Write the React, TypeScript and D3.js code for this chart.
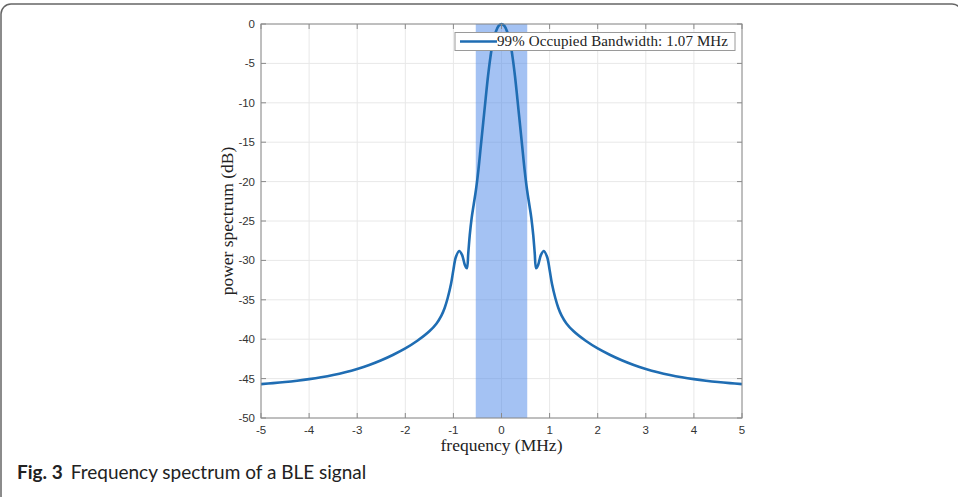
import { useEffect } from "react"
import * as d3 from "d3"

// spectrum (MHz, dB)
const freq = [
    -5, -4.75, -4.5, -4.25, -4, -3.75, -3.5, -3.25, -3, -2.75, -2.5, -2.25, -2, -1.75, -1.5, -1.35, -1.25, -1.18, -1.12, -1.05,
    -1, -0.95, -0.88, -0.82, -0.76, -0.72, -0.69, -0.66, -0.62, -0.58, -0.53, -0.48, -0.43, -0.38, -0.33, -0.28, -0.23, -0.18, -0.12, -0.06, 0,
    0.06, 0.12, 0.18, 0.23, 0.28, 0.33, 0.38, 0.43, 0.48, 0.53, 0.58, 0.62, 0.66, 0.69, 0.72, 0.76, 0.82, 0.88, 0.95, 1,
    1.05, 1.12, 1.18, 1.25, 1.35, 1.5, 1.75, 2, 2.25, 2.5, 2.75, 3, 3.25, 3.5, 3.75, 4, 4.25, 4.5, 4.75, 5,
]
const power = [
    -45.7, -45.58, -45.44, -45.27, -45.07, -44.83, -44.54, -44.19, -43.77, -43.27, -42.67, -41.97, -41.17, -40.2, -39.0, -38.0, -37.0, -36.0, -34.8, -33.0,
    -31.2, -29.6, -28.8, -29.3, -30.6, -31.0, -29.0, -26.8, -24.6, -23.0, -21.0, -18.5, -15.5, -12.5, -9.5, -6.6, -4.2, -2.3, -1.0, -0.25, 0,
    -0.25, -1.0, -2.3, -4.2, -6.6, -9.5, -12.5, -15.5, -18.5, -21.0, -23.0, -24.6, -26.8, -29.0, -31.0, -30.6, -29.3, -28.8, -29.6, -31.2,
    -33.0, -34.8, -36.0, -37.0, -38.0, -39.0, -40.2, -41.17, -41.97, -42.67, -43.27, -43.77, -44.19, -44.54, -44.83, -45.07, -45.27, -45.44, -45.58, -45.7,
]
const xTicks = [-5, -4, -3, -2, -1, 0, 1, 2, 3, 4, 5]
const yTicks = [0, -5, -10, -15, -20, -25, -30, -35, -40, -45, -50]
const bandEdges = [-0.535, 0.535]
const legendLabel = "99% Occupied Bandwidth: 1.07 MHz"

export default function App() {
    useEffect(() => {
        document.body.style.margin = "0"
    }, [])

    const W = 958
    const H = 497
    const left = 261, right = 742, top = 24, bottom = 418

    const x = d3.scaleLinear().domain([-5, 5]).range([left, right])
    const y = d3.scaleLinear().domain([-50, 0]).range([bottom, top])

    const pts = freq.map((f, i) => [f, power[i]] as [number, number])
    const line = d3.line<[number, number]>()
        .x(d => x(d[0]))
        .y(d => y(d[1]))
        .curve(d3.curveCatmullRom.alpha(0.5))

    const axisColor = "#8a8a8a"
    const gridColor = "#e8e8e8"
    const tickFont = "Liberation Sans, Arial, sans-serif"
    const serif = "Liberation Serif, Times New Roman, serif"

    return (
        <svg width={W} height={H} style={{ position: "absolute", left: 0, top: 0, background: "#fff" }}>
            {/* figure frame */}
            <rect x={1} y={4} width={961} height={502} rx={10} fill="none" stroke="#666" strokeWidth={1.5} />

            {/* grid */}
            {xTicks.map(t => (
                <line key={"gx" + t} x1={x(t)} x2={x(t)} y1={top} y2={bottom} stroke={gridColor} strokeWidth={1} />
            ))}
            {yTicks.map(t => (
                <line key={"gy" + t} x1={left} x2={right} y1={y(t)} y2={y(t)} stroke={gridColor} strokeWidth={1} />
            ))}

            {/* occupied band */}
            <rect x={x(bandEdges[0])} y={top} width={x(bandEdges[1]) - x(bandEdges[0])} height={bottom - top}
                fill="#4a86e8" fillOpacity={0.5} />

            {/* spectrum */}
            <path d={line(pts) ?? ""} fill="none" stroke="#1f6db3" strokeWidth={2.6} strokeLinejoin="round" />

            {/* axes box */}
            <rect x={left} y={top} width={right - left} height={bottom - top} fill="none" stroke={axisColor} strokeWidth={1} />
            {xTicks.map(t => (
                <g key={"tx" + t}>
                    <line x1={x(t)} x2={x(t)} y1={bottom} y2={bottom - 5} stroke={axisColor} />
                    <line x1={x(t)} x2={x(t)} y1={top} y2={top + 5} stroke={axisColor} />
                    <text x={x(t)} y={434} textAnchor="middle" fontFamily={tickFont} fontSize={11.5} fill="#333">{t}</text>
                </g>
            ))}
            {yTicks.map(t => (
                <g key={"ty" + t}>
                    <line x1={left} x2={left + 5} y1={y(t)} y2={y(t)} stroke={axisColor} />
                    <line x1={right} x2={right - 5} y1={y(t)} y2={y(t)} stroke={axisColor} />
                    <text x={255} y={y(t) + 4} textAnchor="end" fontFamily={tickFont} fontSize={11.5} fill="#333">{t}</text>
                </g>
            ))}

            {/* axis labels */}
            <text x={(left + right) / 2} y={451} textAnchor="middle" fontFamily={serif} fontSize={17.5} fill="#222">frequency (MHz)</text>
            <text transform={`translate(233,${(top + bottom) / 2}) rotate(-90)`} textAnchor="middle" fontFamily={serif} fontSize={17.5} fill="#222">
                power spectrum (dB)
            </text>

            {/* legend */}
            <rect x={455} y={32.5} width={280} height={18} fill="#fff" stroke="#9a9a9a" strokeWidth={1} />
            <line x1={460} x2={497} y1={41.5} y2={41.5} stroke="#1f6db3" strokeWidth={2.6} />
            <text x={497} y={46} fontFamily={serif} fontSize={15} fill="#222" textLength={231}>{legendLabel}</text>

            {/* caption */}
            <text x={17} y={479} fontFamily="Lato, Open Sans, sans-serif" fontSize={19} fill="#222">
                <tspan fontWeight="bold">Fig. 3</tspan>
                <tspan dx={8}>Frequency spectrum of a BLE signal</tspan>
            </text>
        </svg>
    )
}
